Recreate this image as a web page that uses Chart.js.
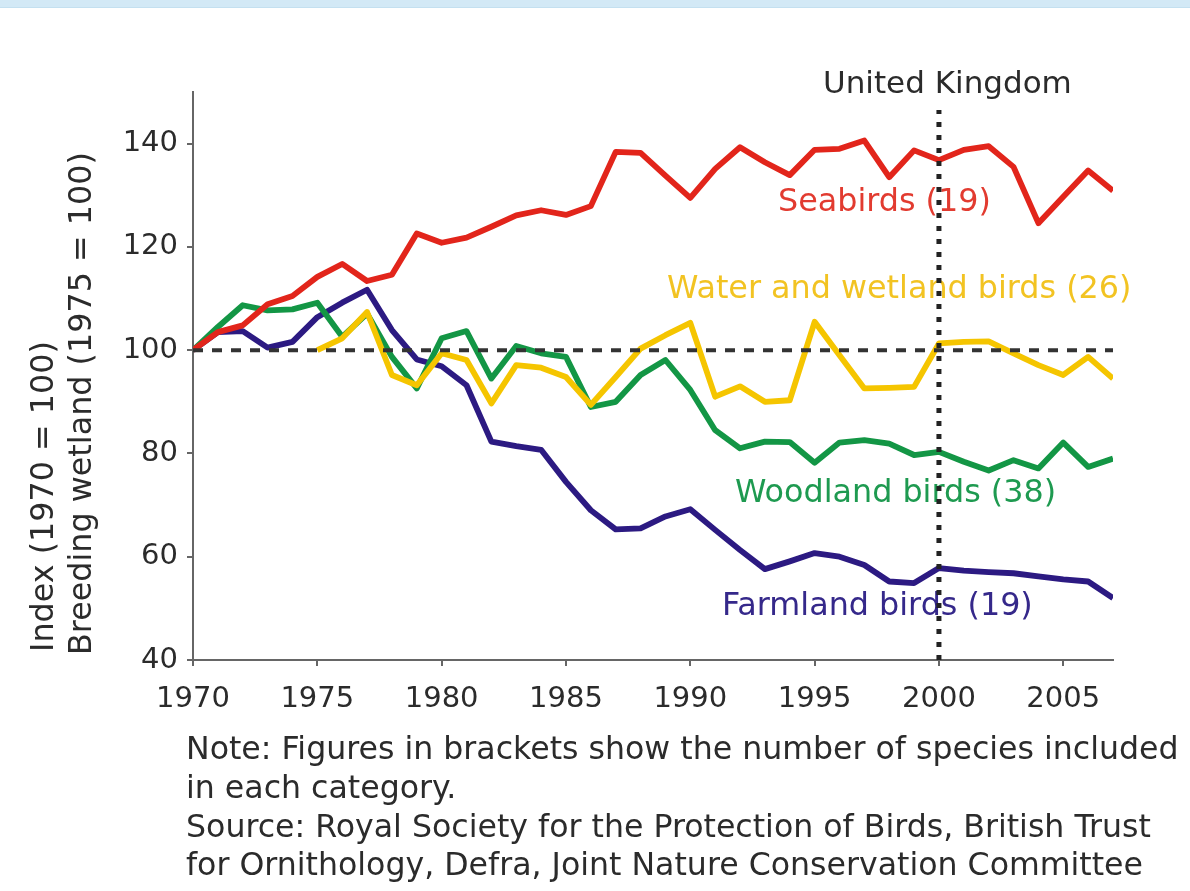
<!DOCTYPE html>
<html><head><meta charset="utf-8">
<script src="https://cdn.jsdelivr.net/npm/chart.js@4/dist/chart.umd.min.js"></script>
<style>
html,body{margin:0;padding:0;background:#fff;overflow:hidden;}
#wrap{position:absolute;left:0;top:0;width:1190px;height:891px;}
#band{position:absolute;left:0;top:0;width:1190px;height:7px;background:#d3e9f6;border-bottom:1px solid #c4e0f0;}
</style></head><body>
<div id="wrap"><canvas id="c" width="1190" height="891"></canvas></div>
<div id="band"></div>
<script>
const years = [1970,1971,1972,1973,1974,1975,1976,1977,1978,1979,1980,1981,1982,1983,1984,1985,1986,1987,1988,1989,1990,1991,1992,1993,1994,1995,1996,1997,1998,1999,2000,2001,2002,2003,2004,2005,2006,2007];
const seabirds = [100,103.5,104.8,108.9,110.5,114.2,116.7,113.4,114.6,122.6,120.8,121.8,123.9,126.1,127.1,126.2,127.9,138.4,138.2,133.8,129.5,135.1,139.3,136.4,133.9,138.8,139.0,140.6,133.5,138.7,136.8,138.8,139.5,135.5,124.6,129.7,134.8,130.9];
const water = [null,null,null,null,null,100,102.3,107.4,95.2,93.2,99.4,98.1,89.7,97.1,96.6,94.8,89.4,94.8,100.3,102.9,105.3,91.0,93.0,90.0,90.3,105.5,99.0,92.6,92.7,92.9,101.3,101.6,101.7,99.4,97.1,95.2,98.7,94.5];
const woodland = [100,104.5,108.7,107.7,107.9,109.2,102.6,107.1,98.7,92.6,102.3,103.7,94.5,100.8,99.4,98.7,89.0,90.0,95.2,98.1,92.3,84.5,81.0,82.3,82.2,78.2,82.1,82.6,81.9,79.7,80.3,78.4,76.7,78.7,77.1,82.1,77.4,79.0];
const farmland = [100,103.5,103.7,100.5,101.6,106.4,109.2,111.7,103.9,98.2,96.9,93.2,82.3,81.4,80.7,74.5,69.0,65.3,65.5,67.8,69.2,65.2,61.3,57.6,59.1,60.7,60.0,58.4,55.2,54.9,57.8,57.3,57.0,56.8,56.2,55.6,55.2,52.0];
const xTicks = [1970,1975,1980,1985,1990,1995,2000,2005];
const yTicks = [40,60,80,100,120,140];
const seriesLabels = ['Seabirds (19)','Water and wetland birds (26)','Woodland birds (38)','Farmland birds (19)'];
const refLevel = 100;
const markerYear = 2000;

const FONT = '"DejaVu Sans", Verdana, sans-serif';
const pts = arr => years.map((yr,i)=>({x:yr,y:arr[i]})).filter(p=>p.y!=null);

const labelPlugin = {
  id:'labels',
  beforeDatasetsDraw(chart){
    const c = chart.ctx;
    c.save();
    c.textBaseline = 'alphabetic';
    c.textAlign = 'left';
    c.font = '31.8px ' + FONT;
    c.fillStyle = '#e23b30'; c.fillText(seriesLabels[0], 778, 211);
    c.fillStyle = '#f2c322'; c.fillText(seriesLabels[1], 667, 298);
    c.fillStyle = '#1e9a50'; c.fillText(seriesLabels[2], 735, 502);
    c.fillStyle = '#35288a'; c.fillText(seriesLabels[3], 722, 615);
    c.font = '31px ' + FONT;
    c.fillStyle = '#2b2b2b'; c.fillText('United Kingdom', 823, 93);
    c.restore();
  },
  afterDraw(chart){
    const c = chart.ctx;
    c.save();
    c.fillStyle = '#2b2b2b';
    c.font = '31.8px ' + FONT;
    c.textBaseline = 'alphabetic';
    c.textAlign = 'left';
    // y-axis title (two rotated lines)
    c.save();
    c.translate(53, 652); c.rotate(-Math.PI/2);
    c.fillText('Index (1970 = 100)', 0, 0);
    c.restore();
    c.save();
    c.translate(91, 655); c.rotate(-Math.PI/2);
    c.fillText('Breeding wetland (1975 = 100)', 0, 0);
    c.restore();
    // notes
    c.font = '31.6px ' + FONT;
    const notes = ['Note: Figures in brackets show the number of species included','in each category.','Source: Royal Society for the Protection of Birds, British Trust','for Ornithology, Defra, Joint Nature Conservation Committee'];
    notes.forEach((t,i)=> c.fillText(t, 186, 759 + i*38.8));
    c.restore();
  }
};

new Chart(document.getElementById('c'), {
  type:'line',
  data:{datasets:[
    {data:[{x:markerYear,y:40},{x:markerYear,y:146.5}], borderColor:'#222', borderWidth:5, borderDash:[5,8], borderCapStyle:'butt', pointRadius:0},
    {data:[{x:1970,y:refLevel},{x:2007,y:refLevel}], borderColor:'#333', borderWidth:4, borderDash:[10,9], borderCapStyle:'butt', pointRadius:0},
    {label:seriesLabels[0], data:pts(seabirds), borderColor:'#e2251b', borderWidth:5.8, pointRadius:0, borderJoinStyle:'round'},
    {label:seriesLabels[1], data:pts(water), borderColor:'#f5c500', borderWidth:5.8, pointRadius:0, borderJoinStyle:'round'},
    {label:seriesLabels[2], data:pts(woodland), borderColor:'#139645', borderWidth:5.8, pointRadius:0, borderJoinStyle:'round'},
    {label:seriesLabels[3], data:pts(farmland), borderColor:'#2c1a82', borderWidth:5.8, pointRadius:0, borderJoinStyle:'round'}
  ]},
  options:{
    responsive:false, animation:false, devicePixelRatio:1,
    layout:{padding:{top:92,right:77,left:0,bottom:171}},
    plugins:{legend:{display:false}, tooltip:{enabled:false}},
    elements:{line:{tension:0}},
    scales:{
      x:{type:'linear', min:1970, max:2007,
        afterBuildTicks: s=>{ s.ticks = xTicks.map(v=>({value:v})); },
        afterFit: s=>{ s.height = 60; },
        grid:{drawOnChartArea:false, drawTicks:true, tickLength:6, color:'#666', lineWidth:2},
        border:{display:true, color:'#666', width:2},
        ticks:{font:{family:FONT,size:29}, color:'#2b2b2b', padding:16, maxRotation:0, autoSkip:false, callback:v=>String(v)}
      },
      y:{type:'linear', min:40, max:150,
        afterBuildTicks: s=>{ s.ticks = yTicks.map(v=>({value:v})); },
        afterFit: s=>{ s.width = 193; },
        grid:{drawOnChartArea:false, drawTicks:true, tickLength:6, color:'#666', lineWidth:2},
        border:{display:true, color:'#666', width:2},
        ticks:{font:{family:FONT,size:29}, color:'#2b2b2b', padding:9}
      }
    }
  },
  plugins:[labelPlugin]
});
</script>
</body></html>
